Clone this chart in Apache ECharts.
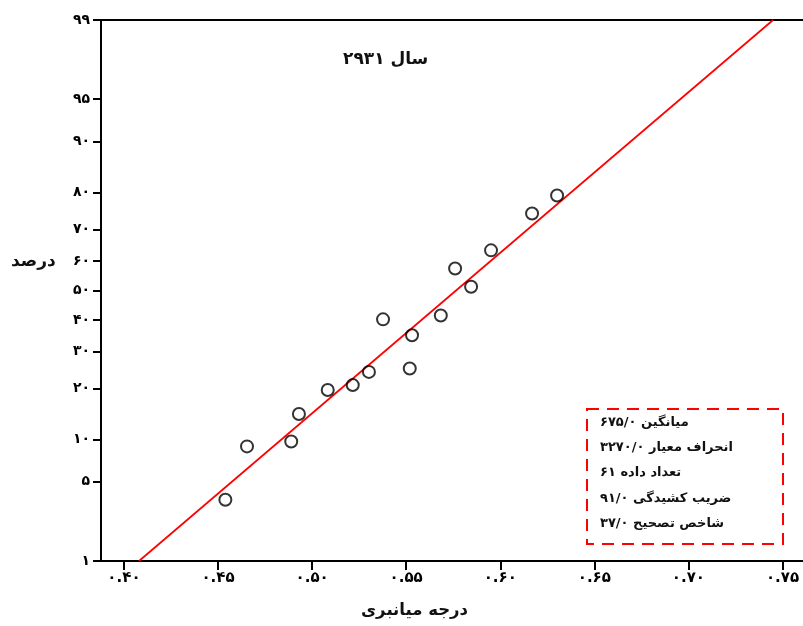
<!DOCTYPE html>
<html><head><meta charset="utf-8">
<script src="https://cdn.jsdelivr.net/npm/echarts@6/dist/echarts.min.js"></script>
<style>html,body{margin:0;padding:0;background:#fff}#c{width:803px;height:626px}</style>
</head><body><div id="c"></div>
<script>
// ---- data ----
const xValues   = [0.4539,0.4654,0.4889,0.4930,0.5083,0.5216,0.5302,0.5377,0.5519,0.5531,0.5684,0.5760,0.5845,0.5951,0.6169,0.6302];
const pctValues = [3.6,9.0,9.7,14.4,19.6,20.8,24.2,40.2,25.1,35.0,41.5,57.5,51.3,63.5,74.6,79.3];
const fitX   = [0.408, 0.745];
const fitPct = [1, 99];
const yTickPct    = [1,5,10,20,30,40,50,60,70,80,90,95,99];
const yTickLabels = ['۱','۵','۱۰','۲۰','۳۰','۴۰','۵۰','۶۰','۷۰','۸۰','۹۰','۹۵','۹۹'];
const xTickVals   = [0.40,0.45,0.50,0.55,0.60,0.65,0.70,0.75];
const xTickLabels = ['۰.۴۰','۰.۴۵','۰.۵۰','۰.۵۵','۰.۶۰','۰.۶۵','۰.۷۰','۰.۷۵'];
const titleText = 'سال ۲۹۳۱';
const xName = 'درجه میانبری';
const yName = 'درصد';
const statLines = ['میانگین ۶۷۵/۰','انحراف معیار ۳۲۷۰/۰','تعداد داده ۶۱','ضریب کشیدگی ۹۱/۰','شاخص تصحیح ۳۷/۰'];

// inverse normal CDF (Acklam) - probability-paper scale transform
function probit(p){
  const a=[-3.969683028665376e+01,2.209460984245205e+02,-2.759285104469687e+02,1.383577518672690e+02,-3.066479806614716e+01,2.506628277459239e+00];
  const b=[-5.447609879822406e+01,1.615858368580409e+02,-1.556989798598866e+02,6.680131188771972e+01,-1.328068155288572e+01];
  const c=[-7.784894002430293e-03,-3.223964580411365e-01,-2.400758277161838e+00,-2.549732539343734e+00,4.374664141464968e+00,2.938163982698783e+00];
  const d=[7.784695709041462e-03,3.224671290700398e-01,2.445134137142996e+00,3.754408661907416e+00];
  const pl=0.02425;let q,r;
  if(p<pl){q=Math.sqrt(-2*Math.log(p));return (((((c[0]*q+c[1])*q+c[2])*q+c[3])*q+c[4])*q+c[5])/((((d[0]*q+d[1])*q+d[2])*q+d[3])*q+1);}
  if(p<=1-pl){q=p-0.5;r=q*q;return (((((a[0]*r+a[1])*r+a[2])*r+a[3])*r+a[4])*r+a[5])*q/(((((b[0]*r+b[1])*r+b[2])*r+b[3])*r+b[4])*r+1);}
  q=Math.sqrt(-2*Math.log(1-p));return -(((((c[0]*q+c[1])*q+c[2])*q+c[3])*q+c[4])*q+c[5])/((((d[0]*q+d[1])*q+d[2])*q+d[3])*q+1);
}
const z = p => probit(p/100);
const yTickZ = yTickPct.map(z);
const FONT = "'DejaVu Sans', sans-serif";
function nearestLabel(vals, labels, v){let i=0,b=1e9;vals.forEach((t,k)=>{if(Math.abs(t-v)<b){b=Math.abs(t-v);i=k;}});return labels[i];}

const chart = echarts.init(document.getElementById('c'), null, {renderer:'canvas'});
const statGraphics = statLines.map((t,i)=>({
  type:'text', left:600, top:416+i*25.3,
  style:{text:t, font:'bold 13px '+FONT, fill:'#111'}
}));
chart.setOption({
  animation:false,
  backgroundColor:'#fff',
  grid:{left:101, top:20, right:0, bottom:65},
  xAxis:[{
    type:'value', min:0.3878, max:0.7609, position:'bottom',
    axisLine:{show:true, onZero:false, lineStyle:{color:'#000', width:2}},
    axisTick:{show:true, length:9, customValues:xTickVals, lineStyle:{color:'#000', width:2}},
    axisLabel:{show:true, customValues:xTickVals, margin:10, fontFamily:FONT, fontWeight:'bold', fontSize:15, color:'#000',
      formatter:v=>nearestLabel(xTickVals, xTickLabels, v)},
    splitLine:{show:false}
  },{
    type:'value', min:0.3878, max:0.7609, position:'top',
    axisLine:{show:true, onZero:false, lineStyle:{color:'#000', width:2}},
    axisTick:{show:false}, axisLabel:{show:false}, splitLine:{show:false}
  }],
  yAxis:{
    type:'value', min:z(1), max:z(99),
    axisLine:{show:true, onZero:false, lineStyle:{color:'#000', width:2}},
    axisTick:{show:true, length:8, customValues:yTickZ, lineStyle:{color:'#000', width:2}},
    axisLabel:{show:true, customValues:yTickZ, margin:11, fontFamily:FONT, fontWeight:'bold', fontSize:14, color:'#000',
      formatter:v=>nearestLabel(yTickZ, yTickLabels, v)},
    splitLine:{show:false}
  },
  series:[{
    type:'line', data:fitX.map((x,i)=>[x, z(fitPct[i])]), symbol:'none',
    lineStyle:{color:'#ff0000', width:1.7}, z:2
  },{
    type:'scatter', data:xValues.map((x,i)=>[x, z(pctValues[i])]), symbol:'circle', symbolSize:12,
    itemStyle:{color:'rgba(255,255,255,0)', borderColor:'#000', borderWidth:2}, z:3
  }],
  graphic:[
    {type:'text', left:343, top:51, style:{text:titleText, font:'bold 17px '+FONT, fill:'#111'}},
    {type:'text', left:11, top:253, style:{text:yName, font:'bold 17px '+FONT, fill:'#111'}},
    {type:'text', left:361, top:602, style:{text:xName, font:'bold 16.5px '+FONT, fill:'#111'}},
    {type:'rect', shape:{x:587, y:409, width:196, height:135},
      style:{fill:'none', stroke:'#ff0000', lineWidth:2, lineDash:[12,8]}}
  ].concat(statGraphics)
});
</script></body></html>
